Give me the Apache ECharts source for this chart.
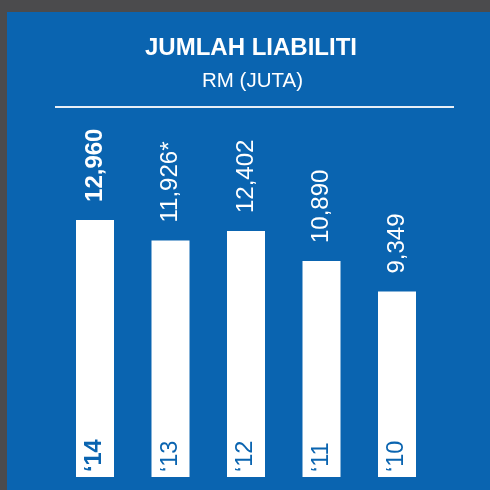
<!DOCTYPE html>
<html><head><meta charset="utf-8">
<script src="https://cdn.jsdelivr.net/npm/echarts@6/dist/echarts.min.js"></script>
<style>html,body{margin:0;padding:0;background:#4B4B4D}#c{width:490px;height:490px}</style>
</head><body><div id="c"></div>
<script>
var categories = ['\u201814', '\u201813', '\u201812', '\u201811', '\u201810'];
var values = [12960, 11926, 12402, 10890, 9349];
var valueLabels = ['12,960', '11,926*', '12,402', '10,890', '9,349'];
var titleText = 'JUMLAH LIABILITI';
var subtitleText = 'RM (JUTA)';

var BLUE = '#0A64B0';
var FONT = '"Liberation Sans", Arial, Helvetica, sans-serif';
var chart = echarts.init(document.getElementById('c'), null, {renderer: 'canvas'});
chart.setOption({
  animation: false,
  backgroundColor: '#4B4B4D',
  graphic: [
    {type: 'rect', z: -10, shape: {x: 7, y: 12, width: 483, height: 478}, style: {fill: BLUE}},
    {type: 'text', z: 10, x: 251, y: 48.5, style: {text: titleText, fill: '#fff', font: 'bold 24px ' + FONT, textAlign: 'center', textVerticalAlign: 'middle'}},
    {type: 'text', z: 10, x: 252.5, y: 81, style: {text: subtitleText, fill: '#fff', font: '20.5px ' + FONT, textAlign: 'center', textVerticalAlign: 'middle'}},
    {type: 'line', z: 10, shape: {x1: 55, y1: 107, x2: 454, y2: 107}, style: {stroke: '#E8EEF6', lineWidth: 2}}
  ],
  grid: {left: 57.25, right: 55.25, top: 179.5, bottom: 13},
  xAxis: {
    type: 'category', data: categories,
    axisLine: {show: false}, axisTick: {show: false}, axisLabel: {show: false}
  },
  yAxis: {
    type: 'value', min: 0, max: 15000,
    show: false, splitLine: {show: false}
  },
  series: [
    {
      type: 'bar', data: values, barWidth: 38, z: 2,
      itemStyle: {color: '#FFFFFF'},
      label: {
        show: true, position: 'top', rotate: 90, align: 'left', verticalAlign: 'middle', distance: 18,
        color: '#FFFFFF', fontFamily: FONT, fontSize: 24,
        formatter: function (p) {
          return p.dataIndex === 0 ? '{b|' + valueLabels[p.dataIndex] + '}' : valueLabels[p.dataIndex];
        },
        rich: {b: {fontWeight: 'bold', fontSize: 24, fontFamily: FONT, color: '#FFFFFF'}}
      }
    },
    {
      type: 'bar', data: values, barWidth: 38, barGap: '-100%', z: 3,
      itemStyle: {color: 'rgba(0,0,0,0)'},
      label: {
        show: true, position: 'insideBottom', rotate: 90, align: 'left', verticalAlign: 'middle', distance: 5,
        color: BLUE, fontFamily: FONT, fontSize: 23.5,
        formatter: function (p) {
          return p.dataIndex === 0 ? '{b|' + p.name + '}' : p.name;
        },
        rich: {b: {fontWeight: 'bold', fontSize: 23.5, fontFamily: FONT, color: BLUE}}
      }
    }
  ]
});
</script></body></html>
